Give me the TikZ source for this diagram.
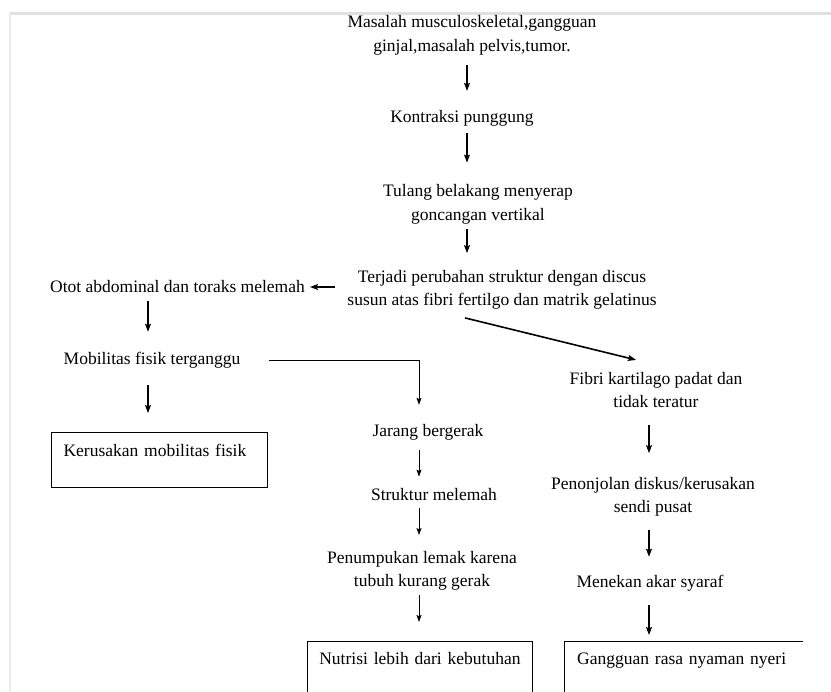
\documentclass[tikz,border=0pt]{standalone}
\usepackage{fontspec}
\setmainfont{Liberation Serif}
\usetikzlibrary{arrows.meta,calc}
\begin{document}
\begin{tikzpicture}[x=1pt,y=-1pt,
  txt/.style={font=\fontsize{17.5}{23.5}\selectfont, align=center, inner sep=0pt},
  arr/.style={-{Stealth[length=8pt,width=6pt,inset=1.5pt]}, line width=1.2pt},
  arrthin/.style={-{Stealth[length=7pt,width=5pt,inset=1.2pt]}, line width=0.8pt},
  boxtxt/.style={font=\fontsize{17.5}{23.5}\selectfont, inner ysep=0pt, anchor=north west}]
\useasboundingbox (0,0) rectangle (831,692);
\clip (0,0) rectangle (831,692);
\fill[white] (0,0) rectangle (831,692);
% screenshot frame
\draw[black!12, line width=2.5pt] (10,13.5) -- (831,13.5);
\draw[black!8, line width=1.5pt] (10,13) -- (10,692);
% column x positions
\coordinate (xa) at (467,0);
\coordinate (xl) at (148,0);
\coordinate (xm) at (419,0);
\coordinate (xr) at (649,0);
% nodes
\node[txt] (n1) at (472,35.5) {Masalah musculoskeletal,gangguan\\ginjal,masalah pelvis,tumor.};
\node[txt] (n2) at (462,118) {Kontraksi punggung};
\node[txt] (n3) at (478,204.5) {Tulang belakang menyerap\\goncangan vertikal};
\node[txt] (n4) at (502,290) {Terjadi perubahan struktur dengan discus\\susun atas fibri fertilgo dan matrik gelatinus};
\node[txt] (n5) at (177.5,287) {Otot abdominal dan toraks melemah};
\node[txt] (n6) at (152,360) {Mobilitas fisik terganggu};
\node[boxtxt, draw, line width=1.1pt, inner xsep=12pt, text width=192pt, text height=24pt, text depth=31pt, align=left] (n7) at (51,432) {Kerusakan mobilitas fisik};
\node[txt] (n8) at (656,390) {Fibri kartilago padat dan\\tidak teratur};
\node[txt] (n9) at (428,432) {Jarang bergerak};
\node[txt] (n10) at (434,495) {Struktur melemah};
\node[txt] (n11) at (422,571) {Penumpukan lemak karena\\tubuh kurang gerak};
\node[boxtxt, draw, line width=0.9pt, inner xsep=0pt, text width=225pt, text height=23pt, text depth=56pt, align=center] (n12) at (307,641) {Nutrisi lebih dari kebutuhan};
\node[txt] (n13) at (653,497) {Penonjolan diskus/kerusakan\\sendi pusat};
\node[txt] (n14) at (650,583) {Menekan akar syaraf};
\node[boxtxt, inner xsep=13pt, text width=213pt, text height=23pt, text depth=56pt, align=left] (n15) at (564,641) {Gangguan rasa nyaman nyeri};
\draw[line width=0.9pt] (n15.north east) -- (n15.north west) -- (n15.south west);
% connectors
\draw[arr, shorten <=9.8pt, shorten >=19pt] (n1.south -| xa) -- (n2.north -| xa);
\draw[arr, shorten <=7pt, shorten >=22pt] (n2.south -| xa) -- (n3.north -| xa);
\draw[arr, shorten <=5pt, shorten >=17pt] (n3.south -| xa) -- (n4.north -| xa);
\draw[arr, shorten <=12pt, shorten >=5pt] (n5.east -| n4.west) -- (n5.east);
\draw[arr, shorten <=8pt, shorten >=20pt] (n5.south -| xl) -- (n6.north -| xl);
\draw[arr, shorten <=17pt, shorten >=19pt] (n6.south -| xl) -- (n7.north -| xl);
\draw[arrthin, shorten <=28pt, shorten >=19pt] (n6.east) -- (n6.east -| xm) -- (n9.north -| xm);
\draw[arr, line width=1.6pt] ($(n4.south)+(-37,8)$) -- ($(n8.north)+(-20,-12)$);
\draw[arrthin, shorten <=10pt, shorten >=12pt] (n9.south -| xm) -- (n10.north -| xm);
\draw[arrthin, shorten <=7pt, shorten >=16pt] (n10.south -| xm) -- (n11.north -| xm);
\draw[arrthin, shorten <=4.5pt, shorten >=19pt] (n11.south -| xm) -- (n12.north -| xm);
\draw[arr, shorten <=17pt, shorten >=24pt] (n8.south -| xr) -- (n13.north -| xr);
\draw[arr, shorten <=13pt, shorten >=18pt] (n13.south -| xr) -- (n14.north -| xr);
\draw[arr, shorten <=14pt, shorten >=6pt] (n14.south -| xr) -- (n15.north -| xr);
\end{tikzpicture}
\end{document}
